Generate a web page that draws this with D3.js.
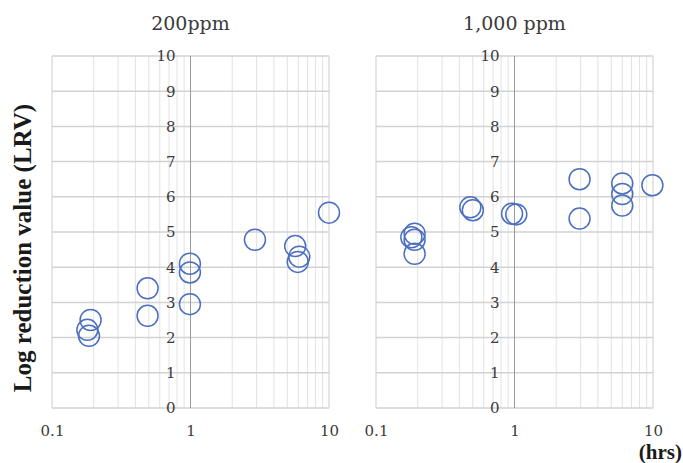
<!DOCTYPE html>
<html>
<head>
<meta charset="utf-8">
<script src="https://cdn.jsdelivr.net/npm/d3@7"></script>
<style>
  body { margin: 0; background: #fff; }
</style>
</head>
<body>
<svg id="chart" width="683" height="463"></svg>
<script>
// Data
const panelTitles = ['200ppm', '1,000 ppm'];

const hours200 = [0.19, 0.18, 0.185, 0.49, 0.49, 0.99, 0.99, 0.99, 2.92, 5.7, 6.1, 5.95, 10];
const lrv200 = [2.5, 2.22, 2.05, 3.4, 2.62, 4.1, 3.85, 2.95, 4.78, 4.6, 4.3, 4.15, 5.55];

const hours1000 = [0.19, 0.18, 0.19, 0.19, 0.48, 0.5, 0.96, 1.03, 2.95, 2.95, 6, 6, 6, 9.9];
const lrv1000 = [4.95, 4.85, 4.78, 4.38, 5.7, 5.62, 5.52, 5.5, 6.5, 5.38, 6.38, 6.08, 5.75, 6.33];

const xTickLabels = [0.1, 1, 10];
const yTickLabels = [0, 1, 2, 3, 4, 5, 6, 7, 8, 9, 10];

const svg = d3.select('#chart');
const plotTop = 56, plotBottom = 408;
const serif = '"DejaVu Serif", serif';

function styleTicks(axis) {
  axis.select('.domain').remove();
  axis.selectAll('text')
    .style('font-family', serif)
    .style('font-size', '15px')
    .style('fill', '#3a3a3a');
}

function drawPanel(left, right, title, hours, lrv) {
  const x = d3.scaleLog().domain([0.1, 10]).range([left, right]);
  const y = d3.scaleLinear().domain([0, 10]).range([plotBottom, plotTop]);
  const g = svg.append('g');

  // minor + major vertical grid
  g.append('g').selectAll('line')
    .data(x.ticks())
    .enter().append('line')
    .attr('x1', d => x(d)).attr('x2', d => x(d))
    .attr('y1', plotTop).attr('y2', plotBottom)
    .attr('stroke', d => (d === 0.1 || d === 10) ? '#cccccc' : '#e2e2e2')
    .attr('stroke-width', 1);

  // horizontal grid
  g.append('g').selectAll('line')
    .data(yTickLabels)
    .enter().append('line')
    .attr('x1', left).attr('x2', right)
    .attr('y1', d => y(d)).attr('y2', d => y(d))
    .attr('stroke', '#d2d2d2')
    .attr('stroke-width', 1.5);

  // y axis crossing at 1 hr
  g.append('line')
    .attr('x1', x(1)).attr('x2', x(1))
    .attr('y1', plotTop).attr('y2', plotBottom)
    .attr('stroke', '#9a9a9a').attr('stroke-width', 1);

  const yAxis = g.append('g')
    .attr('transform', `translate(${x(1)},0)`)
    .call(d3.axisLeft(y).tickValues(yTickLabels).tickSize(0).tickPadding(15));
  styleTicks(yAxis);

  const xAxis = g.append('g')
    .attr('transform', `translate(0,${plotBottom})`)
    .call(d3.axisBottom(x).tickValues(xTickLabels).tickFormat(d => String(d)).tickSize(0).tickPadding(17));
  styleTicks(xAxis);

  g.append('text')
    .attr('x', x(1)).attr('y', 30)
    .attr('text-anchor', 'middle')
    .style('font-family', serif)
    .style('font-size', '19px')
    .attr('fill', '#3a3a3a')
    .text(title);

  g.append('g').selectAll('circle')
    .data(hours.map((h, i) => ({ h, v: lrv[i] })))
    .enter().append('circle')
    .attr('cx', d => x(d.h))
    .attr('cy', d => y(d.v))
    .attr('r', 10.5)
    .attr('fill', 'none')
    .attr('stroke', '#4a6fc0')
    .attr('stroke-width', 1.5);
}

drawPanel(52, 329, panelTitles[0], hours200, lrv200);
drawPanel(376, 653, panelTitles[1], hours1000, lrv1000);

svg.append('text')
  .attr('transform', 'translate(22,248) rotate(-90)')
  .attr('text-anchor', 'middle')
  .attr('dominant-baseline', 'central')
  .style('font-family', '"Liberation Serif", serif')
  .attr('font-weight', 'bold')
  .style('font-size', '25px')
  .attr('fill', '#1a1a1a')
  .text('Log reduction value (LRV)');

svg.append('text')
  .attr('x', 682).attr('y', 459)
  .attr('text-anchor', 'end')
  .style('font-family', '"Liberation Serif", serif')
  .attr('font-weight', 'bold')
  .style('font-size', '21px')
  .attr('fill', '#1a1a1a')
  .text('(hrs)');
</script>
</body>
</html>
